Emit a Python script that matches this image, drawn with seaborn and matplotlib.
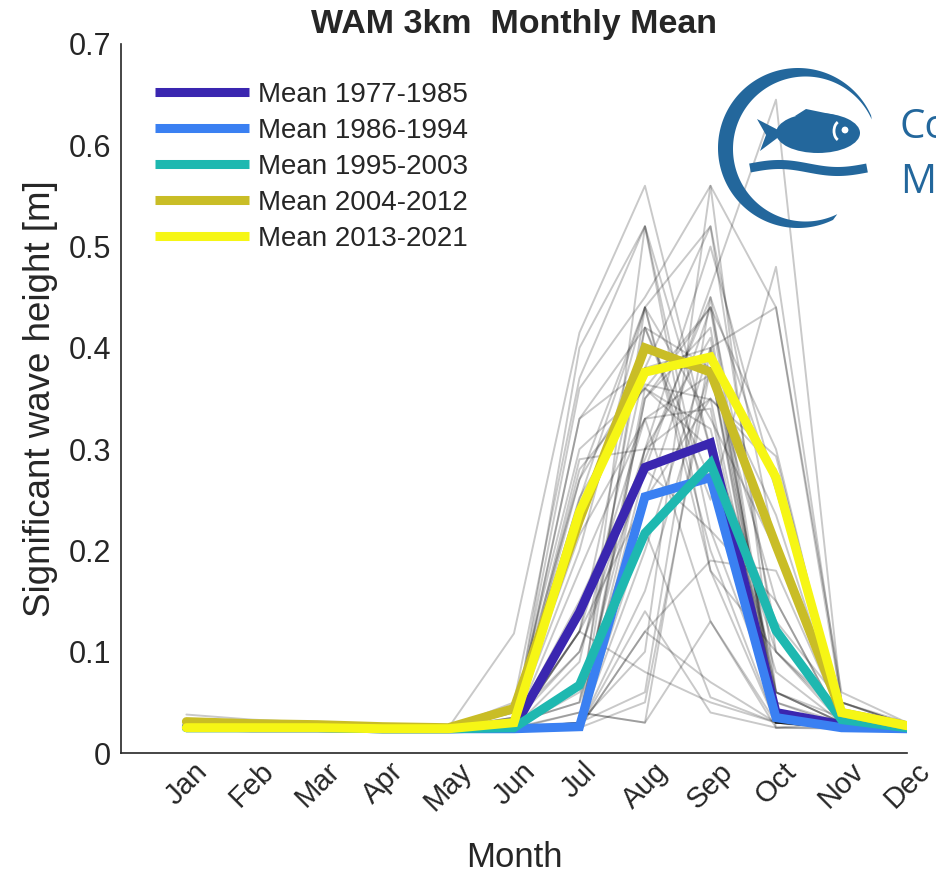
import numpy as np
import pandas as pd
import matplotlib
matplotlib.use("Agg")
import matplotlib.pyplot as plt
import seaborn as sns
from matplotlib.patches import Polygon, Ellipse, Circle, Arc

# ---------------- data ----------------
months = ["Jan", "Feb", "Mar", "Apr", "May", "Jun", "Jul", "Aug", "Sep", "Oct", "Nov", "Dec"]

years_1977_1985 = [
    [0.026, 0.025, 0.025, 0.024, 0.023, 0.024, 0.030, 0.35, 0.44, 0.030, 0.026, 0.024],
    [0.027, 0.026, 0.025, 0.025, 0.024, 0.026, 0.270, 0.44, 0.20, 0.030, 0.025, 0.025],
    [0.025, 0.025, 0.024, 0.024, 0.023, 0.025, 0.040, 0.03, 0.13, 0.025, 0.025, 0.024],
    [0.028, 0.027, 0.026, 0.025, 0.024, 0.027, 0.330, 0.38, 0.52, 0.100, 0.030, 0.026],
    [0.025, 0.025, 0.025, 0.024, 0.024, 0.024, 0.025, 0.16, 0.38, 0.040, 0.030, 0.025],
    [0.026, 0.025, 0.025, 0.025, 0.024, 0.025, 0.120, 0.42, 0.27, 0.030, 0.028, 0.025],
    [0.030, 0.028, 0.026, 0.025, 0.024, 0.026, 0.290, 0.30, 0.41, 0.050, 0.030, 0.026],
    [0.025, 0.024, 0.024, 0.024, 0.023, 0.024, 0.025, 0.12, 0.07, 0.030, 0.025, 0.024],
    [0.026, 0.025, 0.025, 0.024, 0.024, 0.025, 0.120, 0.33, 0.34, 0.025, 0.030, 0.025],
]
years_1986_1994 = [
    [0.025, 0.025, 0.024, 0.024, 0.023, 0.024, 0.025, 0.44, 0.180, 0.030, 0.025, 0.024],
    [0.026, 0.025, 0.025, 0.024, 0.024, 0.025, 0.030, 0.06, 0.450, 0.040, 0.026, 0.025],
    [0.025, 0.025, 0.025, 0.024, 0.023, 0.024, 0.025, 0.30, 0.300, 0.030, 0.025, 0.024],
    [0.027, 0.026, 0.025, 0.025, 0.024, 0.025, 0.025, 0.14, 0.040, 0.025, 0.024, 0.024],
    [0.025, 0.025, 0.024, 0.024, 0.024, 0.024, 0.030, 0.52, 0.220, 0.050, 0.027, 0.025],
    [0.026, 0.025, 0.025, 0.024, 0.023, 0.024, 0.025, 0.05, 0.380, 0.030, 0.025, 0.024],
    [0.025, 0.025, 0.025, 0.025, 0.024, 0.025, 0.025, 0.35, 0.420, 0.040, 0.026, 0.025],
    [0.025, 0.024, 0.024, 0.024, 0.023, 0.024, 0.025, 0.22, 0.055, 0.030, 0.024, 0.024],
    [0.026, 0.025, 0.025, 0.024, 0.024, 0.024, 0.025, 0.20, 0.400, 0.040, 0.026, 0.025],
]
years_1995_2003 = [
    [0.025, 0.025, 0.025, 0.024, 0.024, 0.025, 0.030, 0.10, 0.56, 0.06, 0.030, 0.025],
    [0.026, 0.025, 0.025, 0.024, 0.024, 0.026, 0.180, 0.33, 0.13, 0.03, 0.030, 0.025],
    [0.025, 0.025, 0.024, 0.024, 0.023, 0.024, 0.040, 0.03, 0.40, 0.44, 0.050, 0.028],
    [0.027, 0.026, 0.025, 0.025, 0.024, 0.025, 0.025, 0.28, 0.22, 0.15, 0.030, 0.025],
    [0.025, 0.025, 0.025, 0.024, 0.024, 0.028, 0.120, 0.08, 0.05, 0.03, 0.025, 0.024],
    [0.026, 0.025, 0.025, 0.025, 0.024, 0.025, 0.030, 0.36, 0.30, 0.10, 0.040, 0.026],
    [0.025, 0.025, 0.025, 0.024, 0.024, 0.024, 0.060, 0.25, 0.35, 0.04, 0.030, 0.025],
    [0.026, 0.025, 0.025, 0.024, 0.023, 0.024, 0.025, 0.12, 0.19, 0.18, 0.035, 0.025],
    [0.025, 0.025, 0.024, 0.024, 0.024, 0.025, 0.090, 0.38, 0.38, 0.06, 0.030, 0.025],
]
years_2004_2012 = [
    [0.030, 0.029, 0.028, 0.026, 0.025, 0.118, 0.415, 0.56, 0.300, 0.130, 0.050, 0.028],
    [0.038, 0.033, 0.030, 0.027, 0.025, 0.030, 0.200, 0.44, 0.520, 0.200, 0.040, 0.027],
    [0.030, 0.028, 0.027, 0.026, 0.025, 0.035, 0.100, 0.30, 0.350, 0.280, 0.030, 0.026],
    [0.031, 0.029, 0.028, 0.026, 0.025, 0.040, 0.300, 0.36, 0.440, 0.120, 0.040, 0.027],
    [0.029, 0.028, 0.027, 0.026, 0.025, 0.030, 0.050, 0.42, 0.250, 0.480, 0.050, 0.030],
    [0.032, 0.030, 0.028, 0.026, 0.025, 0.050, 0.370, 0.52, 0.300, 0.080, 0.030, 0.026],
    [0.030, 0.028, 0.027, 0.026, 0.025, 0.030, 0.150, 0.29, 0.450, 0.260, 0.040, 0.027],
    [0.031, 0.029, 0.028, 0.026, 0.025, 0.045, 0.270, 0.38, 0.400, 0.060, 0.035, 0.026],
    [0.030, 0.028, 0.027, 0.026, 0.025, 0.035, 0.215, 0.33, 0.374, 0.235, 0.035, 0.027],
]
years_2013_2021 = [
    [0.025, 0.025, 0.025, 0.024, 0.024, 0.030, 0.360, 0.450, 0.560, 0.440, 0.060, 0.030],
    [0.026, 0.025, 0.025, 0.024, 0.023, 0.025, 0.400, 0.520, 0.180, 0.100, 0.035, 0.026],
    [0.025, 0.025, 0.025, 0.024, 0.024, 0.030, 0.100, 0.280, 0.460, 0.645, 0.050, 0.028],
    [0.026, 0.026, 0.025, 0.025, 0.024, 0.040, 0.250, 0.440, 0.330, 0.200, 0.040, 0.027],
    [0.025, 0.025, 0.024, 0.024, 0.023, 0.025, 0.120, 0.250, 0.440, 0.300, 0.035, 0.026],
    [0.025, 0.025, 0.025, 0.024, 0.024, 0.030, 0.330, 0.420, 0.380, 0.150, 0.030, 0.025],
    [0.026, 0.025, 0.025, 0.024, 0.024, 0.030, 0.050, 0.300, 0.500, 0.260, 0.040, 0.027],
    [0.025, 0.025, 0.024, 0.024, 0.023, 0.025, 0.280, 0.360, 0.320, 0.060, 0.030, 0.025],
    [0.026, 0.025, 0.025, 0.024, 0.024, 0.035, 0.252, 0.364, 0.349, 0.293, 0.040, 0.027],
]

mean_labels = ["Mean 1977-1985", "Mean 1986-1994", "Mean 1995-2003",
               "Mean 2004-2012", "Mean 2013-2021"]
mean_1977_1985 = [0.026, 0.025, 0.025, 0.024, 0.024, 0.025, 0.139, 0.282, 0.306, 0.040, 0.028, 0.025]
mean_1986_1994 = [0.025, 0.025, 0.025, 0.024, 0.024, 0.024, 0.026, 0.253, 0.272, 0.035, 0.025, 0.024]
mean_1995_2003 = [0.025, 0.025, 0.025, 0.024, 0.024, 0.025, 0.067, 0.217, 0.286, 0.121, 0.033, 0.025]
mean_2004_2012 = [0.031, 0.029, 0.028, 0.026, 0.025, 0.044, 0.230, 0.400, 0.376, 0.205, 0.040, 0.027]
mean_2013_2021 = [0.025, 0.025, 0.025, 0.024, 0.024, 0.030, 0.238, 0.376, 0.391, 0.272, 0.040, 0.027]
mean_colors = ["#3a26b0", "#3a80f2", "#1eb8b0", "#c9bd26", "#f6f615"]

y_ticks = [0, 0.1, 0.2, 0.3, 0.4, 0.5, 0.6, 0.7]
y_tick_labels = ["0", "0.1", "0.2", "0.3", "0.4", "0.5", "0.6", "0.7"]

# ---------------- tables ----------------
month_num = np.arange(1, 13)
rows = []
year = 1977
for block in [years_1977_1985, years_1986_1994, years_1995_2003, years_2004_2012, years_2013_2021]:
    for vals in block:
        for m, v in zip(month_num, vals):
            rows.append({"year": year, "month": m, "hs": v})
        year += 1
df_years = pd.DataFrame(rows)

mrows = []
for lab, vals in zip(mean_labels, [mean_1977_1985, mean_1986_1994, mean_1995_2003,
                                   mean_2004_2012, mean_2013_2021]):
    for m, v in zip(month_num, vals):
        mrows.append({"period": lab, "month": m, "hs": v})
df_means = pd.DataFrame(mrows)

# ---------------- plot ----------------
sns.set_style("white")
plt.rcParams["font.family"] = ["Liberation Sans", "DejaVu Sans"]

fig = plt.figure(figsize=(9.37, 8.74), dpi=100)
ax = fig.add_axes([0.129, 0.1384, 0.839, 0.8113])

sns.lineplot(data=df_years, x="month", y="hs", units="year", estimator=None,
             color="black", alpha=0.21, linewidth=1.4, ax=ax, legend=False, zorder=1)

handles = []
for i, lab in enumerate(mean_labels):
    sub = df_means[df_means["period"] == lab]
    sns.lineplot(data=sub, x="month", y="hs", color=mean_colors[i], linewidth=6.5,
                 ax=ax, legend=False, zorder=3 + i, solid_joinstyle="miter")
    handles.append(plt.Line2D([], [], color=mean_colors[i], linewidth=6.5,
                              solid_capstyle="butt"))

ax.set_xlim(0, 12)
ax.set_ylim(0, 0.7)
ax.set_xticks(month_num)
ax.set_xticklabels(months, rotation=45, ha="center", va="top", fontsize=21, color="#262626")
ax.set_yticks(y_ticks)
ax.set_yticklabels(y_tick_labels, fontsize=22, color="#262626")
ax.tick_params(axis="both", direction="in", length=6, width=1.2, color="#262626", pad=7)
ax.tick_params(axis="x", pad=3)
for s in ["top", "right"]:
    ax.spines[s].set_visible(False)
for s in ["left", "bottom"]:
    ax.spines[s].set_color("#262626")
    ax.spines[s].set_linewidth(1.2)

ax.set_xlabel("Month", fontsize=25, color="#262626", labelpad=18)
ax.set_ylabel("Significant wave height [m]", fontsize=26.5, color="#262626", labelpad=8)
ax.set_title("WAM 3km  Monthly Mean", fontsize=24.5, fontweight="bold", pad=8)

leg = ax.legend(handles, mean_labels, loc="upper left", bbox_to_anchor=(0.029, 0.962),
                frameon=False, fontsize=20, handlelength=3.4, handletextpad=0.33,
                labelspacing=0.36, borderaxespad=0)

# ---------------- logo watermark ----------------
lax = fig.add_axes([0, 0, 1, 1], zorder=10)
lax.set_xlim(0, 937)
lax.set_ylim(874, 0)
lax.axis("off")
lax.patch.set_alpha(0)
blue = "#23679c"
cx, cy, R = 798, 148, 80
th = np.radians(np.linspace(24, 296, 200))
outer = np.c_[cx + R * np.cos(th), cy - R * np.sin(th)]
ri = 72.5
inner = np.c_[cx + 7.5 + ri * np.cos(th[::-1]), cy + 1 - ri * np.sin(th[::-1])]
lax.add_patch(Polygon(np.vstack([outer, inner]), closed=True, color=blue, lw=0))
# fish
lax.add_patch(Ellipse((818, 133), 84, 40, color=blue, lw=0))
lax.add_patch(Polygon([[784, 133], [757, 119], [766, 135], [760, 151]], closed=True, color=blue, lw=0))
lax.add_patch(Polygon([[795, 116], [806, 109], [835, 115]], closed=True, color=blue, lw=0))
lax.add_patch(Circle((845, 130), 3.4, color="white", lw=0))
lax.add_patch(Arc((841, 131), 14, 20, theta1=110, theta2=250, color="white", lw=2))
# wave
wx = np.linspace(750, 867, 60)
wy = 168 - 3.5 * np.sin((wx - 750) / 117 * 2 * np.pi)
lax.plot(wx, wy, color=blue, lw=6.5, solid_capstyle="butt")
lax.text(900, 128, "Co", fontsize=29, color=blue, family="Open Sans", va="center", ha="left")
lax.text(900, 183, "Ma", fontsize=29, color=blue, family="Open Sans", va="center", ha="left")

fig.savefig("out.png", dpi=100, facecolor="white")
